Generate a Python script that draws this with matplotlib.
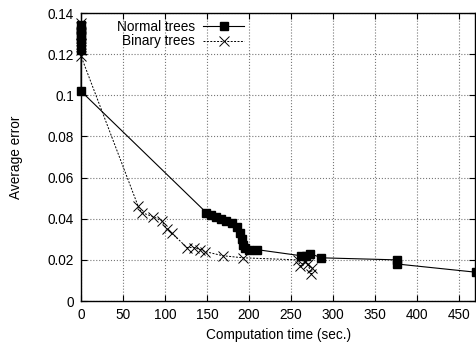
import numpy as np
import matplotlib.pyplot as plt
from matplotlib.ticker import FuncFormatter

plt.rcParams['font.family'] = ['Liberation Sans', 'DejaVu Sans']
plt.rcParams['font.size'] = 9.8

# Normal trees
normal_x = [0, 0, 0, 0, 0, 0, 0, 149, 155, 161, 167, 173, 180, 186, 189, 191, 193, 195, 200, 209,
            262, 268, 273, 286, 376, 376, 470]
normal_y = [0.134, 0.132, 0.130, 0.128, 0.126, 0.122, 0.102, 0.043, 0.042, 0.041, 0.040, 0.039,
            0.038, 0.036, 0.033, 0.030, 0.027, 0.026, 0.025, 0.025,
            0.022, 0.022, 0.023, 0.021, 0.020, 0.018, 0.014]

# Binary trees
binary_x = [0, 0, 0, 0, 0, 0, 0, 68, 72, 86, 96, 102, 108, 126, 134, 142, 148, 169, 193,
            258, 261, 266, 270, 274, 275]
binary_y = [0.135, 0.133, 0.130, 0.128, 0.125, 0.122, 0.119, 0.046, 0.043, 0.041, 0.039, 0.035,
            0.033, 0.026, 0.026, 0.025, 0.024, 0.022, 0.021,
            0.020, 0.017, 0.019, 0.018, 0.013, 0.016]

fig = plt.figure(figsize=(4.77, 3.49), dpi=100)
ax = fig.add_axes([0.170, 0.1375, 0.826, 0.825])

ax.plot(normal_x, normal_y, '-', color='black', lw=0.8, marker='s', ms=5.8,
        label='Normal trees', clip_on=False, zorder=3)
ax.plot(binary_x, binary_y, '--', color='black', lw=0.7, dashes=(2, 1.5), marker='x', ms=6.5,
        mew=0.7, label='Binary trees', clip_on=False, zorder=3)

ax.set_xlim(0, 469)
ax.set_ylim(0, 0.14)
ax.set_xticks(np.arange(0, 451, 50))
ax.set_yticks(np.arange(0, 0.141, 0.02))
ax.yaxis.set_major_formatter(FuncFormatter(lambda v, p: '%g' % round(v, 3)))
ax.grid(True, linestyle=':', color='#777777', lw=0.8)
ax.tick_params(direction='in', top=True, right=True, length=4, width=0.8, colors='black', pad=5)
for s in ax.spines.values():
    s.set_linewidth(1.0)

ax.set_xlabel('Computation time (sec.)', labelpad=4)
ax.set_ylabel('Average error', labelpad=18)

ax.legend(loc='upper left', bbox_to_anchor=(0.07, 1.005), frameon=False, markerfirst=False,
          handlelength=3.0, handletextpad=0.6, labelspacing=0.05, borderaxespad=0.2)

fig.savefig('out.png', dpi=100)
